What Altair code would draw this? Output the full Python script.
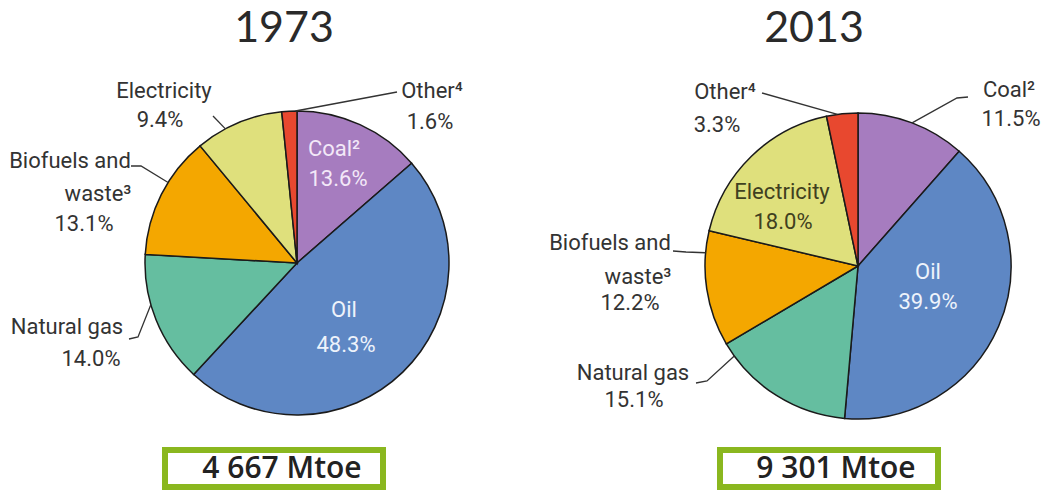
import math
import altair as alt
import pandas as pd

# ---------------- data ----------------
keys = ["Coal", "Oil", "Natural gas", "Biofuels", "Electricity", "Other"]
share_1973 = [13.6, 48.3, 14.0, 13.1, 9.4, 1.6]
share_2013 = [11.5, 39.9, 15.1, 12.2, 18.0, 3.3]
years = ["1973", "2013"]
totals = ["4 667 Mtoe", "9 301 Mtoe"]
name_lines = {
    "Coal": ["Coal²"],
    "Oil": ["Oil"],
    "Natural gas": ["Natural gas"],
    "Biofuels": ["Biofuels and", "waste³"],
    "Electricity": ["Electricity"],
    "Other": ["Other⁴"],
}
colors = ["#a67cbf", "#5e87c4", "#65bea0", "#f4a700", "#dfe07c", "#e8482f"]

# ---------------- layout (image pixels) ----------------
M = 8
centers = {"1973": (297, 263), "2013": (858, 266)}
R = {"1973": 152, "2013": 153}
LABEL_FONT = "Roboto, Open Sans, sans-serif"
LABEL_SIZE = 22
TEXT_DARK = "#333333"

# per label: line centres, text colour, leader points and where on the slice it touches
label_layout = {
    "1973": {
        "Coal": ([(334, 149), (338, 179)], "#f3e8f8", [], None),
        "Oil": ([(344, 310), (346, 345)], "#eef3fb", [], None),
        "Natural gas": ([(67, 327), (91, 359)], TEXT_DARK, [(129, 339), (138, 337)], 0.62),
        "Biofuels": ([(70, 161), (98, 194), (84, 224)], TEXT_DARK, [(131, 166), (141, 166)], 0.61),
        "Electricity": ([(164, 91), (160, 120)], TEXT_DARK, [(213, 116)], 0.34),
        "Other": ([(432, 91), (430, 122)], TEXT_DARK, [(397, 92)], 0.9),
    },
    "2013": {
        "Coal": ([(1009, 90), (1011, 119)], TEXT_DARK, [(968, 97), (957, 98)], 0.5),
        "Oil": ([(928, 272), (928, 302)], "#eef3fb", [], None),
        "Natural gas": ([(633, 373), (634, 400)], TEXT_DARK, [(696, 383), (707, 381)], 0.9),
        "Biofuels": ([(610, 243), (638, 277), (630, 303)], TEXT_DARK, [(673, 251), (686, 252)], 0.81),
        "Electricity": ([(782, 192), (783, 222)], "#3f4020", [], None),
        "Other": ([(725, 92), (717, 125)], TEXT_DARK, [(762, 93)], 0.35),
    },
}
title_pos = {"1973": (284, 8), "2013": (814, 8)}
box_pos = {"1973": (162, 447, 386, 490), "2013": (717, 447, 941, 490)}
box_text_pos = {"1973": (282, 469), "2013": (836, 469)}

# ---------------- tables ----------------
rows = []
for year, shares in zip(years, [share_1973, share_2013]):
    for i, (k, v) in enumerate(zip(keys, shares)):
        rows.append({"year": year, "key": k, "value": v, "ord": i})
pie_df = pd.DataFrame(rows)

text_rows, line_rows = [], []
for year, shares in zip(years, [share_1973, share_2013]):
    cx, cy = centers[year]
    total = sum(shares)
    cum = 0.0
    for k, v in zip(keys, shares):
        lines = name_lines[k] + [f"{v:.1f}%"]
        pos, col, leader, frac = label_layout[year][k]
        for t, (x, y) in zip(lines, pos):
            text_rows.append({"text": t, "x": x - M, "y": y - M, "color": col})
        if frac is not None:
            ang = 2 * math.pi * (cum + frac * v) / total
            ex, ey = cx + R[year] * math.sin(ang), cy - R[year] * math.cos(ang)
            pts = leader + [(ex, ey)]
            for j, (x, y) in enumerate(pts):
                line_rows.append({"id": f"{year}-{k}", "seq": j, "x": x - M, "y": y - M})
        cum += v
text_df = pd.DataFrame(text_rows)
line_df = pd.DataFrame(line_rows)

title_df = pd.DataFrame([{"text": y, "x": title_pos[y][0] - M, "y": title_pos[y][1] - M} for y in years])
SW = 6
box_df = pd.DataFrame([
    {"text": t, "x": box_pos[y][0] - M + SW / 2, "x2": box_pos[y][2] - M - SW / 2,
     "y": box_pos[y][1] - M + SW / 2, "y2": box_pos[y][3] - M - SW / 2,
     "tx": box_text_pos[y][0] - M, "ty": box_text_pos[y][1] - M}
    for y, t in zip(years, totals)
])

# ---------------- chart ----------------
layers = []
for year in years:
    cx, cy = centers[year]
    arc = (
        alt.Chart(pie_df)
        .transform_filter(alt.datum.year == year)
        .mark_arc(radius=R[year], stroke="#1a1a1a", strokeWidth=1.5)
        .encode(
            theta=alt.Theta("value:Q", stack=True),
            color=alt.Color("key:N", scale=alt.Scale(domain=keys, range=colors), legend=None),
            order=alt.Order("ord:Q"),
            x=alt.value(cx - M),
            y=alt.value(cy - M),
        )
    )
    layers.append(arc)

leaders = alt.Chart(line_df).mark_line(color="#333333", strokeWidth=1.3).encode(
    x=alt.X("x:Q", scale=None), y=alt.Y("y:Q", scale=None),
    detail="id:N", order="seq:Q",
)
layers.append(leaders)

for col in text_df["color"].unique():
    sub = text_df[text_df["color"] == col]
    layers.append(
        alt.Chart(sub).mark_text(font=LABEL_FONT, fontSize=LABEL_SIZE, color=col, align="center", baseline="middle")
        .encode(x=alt.X("x:Q", scale=None), y=alt.Y("y:Q", scale=None), text="text:N")
    )

layers.append(
    alt.Chart(title_df).mark_text(font="Lato, Open Sans, sans-serif", fontWeight=400, fontSize=43,
                                  color="#2a2a2a", align="center", baseline="top")
    .encode(x=alt.X("x:Q", scale=None), y=alt.Y("y:Q", scale=None), text="text:N")
)
layers.append(
    alt.Chart(box_df).mark_rect(fill="white", stroke="#8ab71f", strokeWidth=SW)
    .encode(x=alt.X("x:Q", scale=None), x2="x2:Q", y=alt.Y("y:Q", scale=None), y2="y2:Q")
)
layers.append(
    alt.Chart(box_df).mark_text(font="Open Sans, sans-serif", fontWeight=600, fontSize=30,
                                color="#222222", align="center", baseline="middle")
    .encode(x=alt.X("tx:Q", scale=None), y=alt.Y("ty:Q", scale=None), text="text:N")
)

chart = (
    alt.layer(*layers)
    .resolve_scale(theta="independent")
    .properties(width=1033, height=482, padding=0, autosize="none")
    .configure_view(stroke=None)
)
chart.save("out.html", embed_options={"renderer": "svg", "actions": False})
